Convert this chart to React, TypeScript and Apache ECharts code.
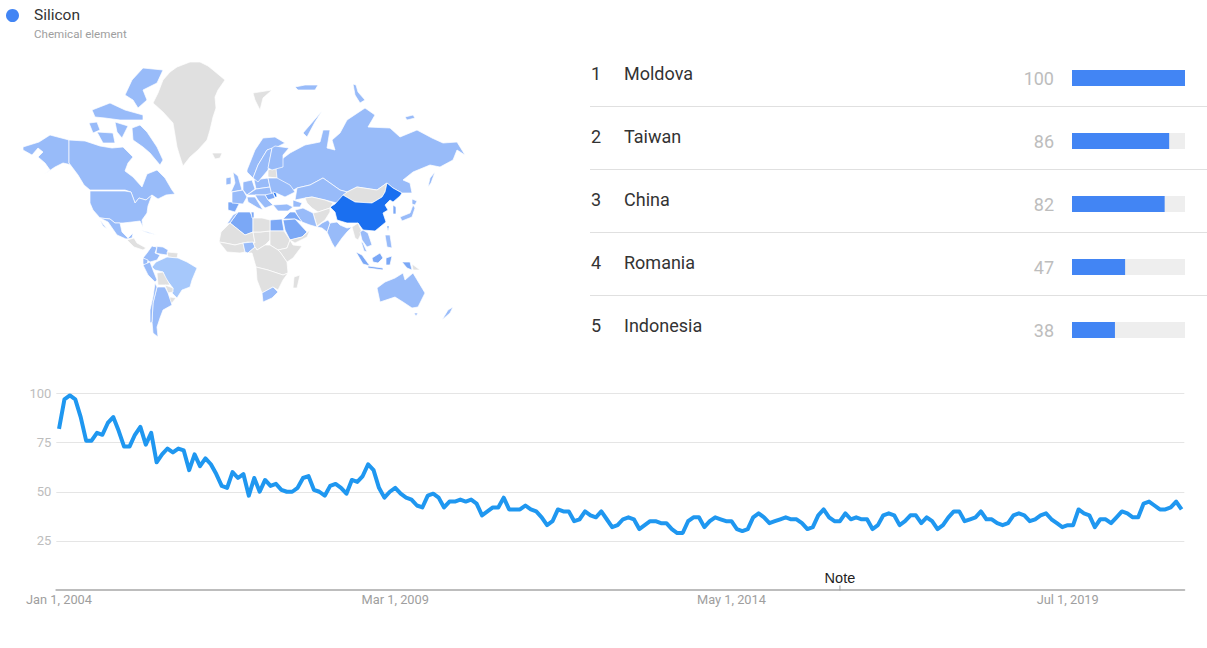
import React, { useEffect, useRef } from "react";
import * as echarts from "echarts";

// ---------- Ranked table ----------
const rankNames = ["Moldova", "Taiwan", "China", "Romania", "Indonesia"];
const rankValues = [100, 86, 82, 47, 38];

// ---------- Interest over time (monthly, Jan 2004 onward) ----------
const tickLabels = ["Jan 1, 2004", "Mar 1, 2009", "May 1, 2014", "Jul 1, 2019"];
const noteMonth = "Jan 1, 2016";
const trendValues = [
  82, 97, 99, 97, 88, 76, 76, 80, 79, 85, 88, 81, 73, 73, 79, 83, 74, 80, 65, 69,
  72, 70, 72, 71, 61, 69, 63, 67, 64, 59, 53, 52, 60, 57, 59, 48, 57, 50, 56, 53,
  54, 51, 50, 50, 52, 57, 58, 51, 50, 48, 53, 54, 52, 49, 56, 55, 58, 64, 61, 52,
  47, 50, 52, 49, 47, 46, 43, 42, 48, 49, 47, 42, 45, 45, 46, 45, 46, 44, 38, 40,
  42, 42, 47, 41, 41, 41, 43, 41, 40, 37, 33, 35, 41, 40, 40, 35, 36, 40, 38, 37,
  40, 36, 32, 33, 36, 37, 36, 31, 33, 35, 35, 34, 34, 31, 29, 29, 35, 37, 37, 32,
  35, 37, 36, 35, 35, 31, 30, 31, 37, 39, 37, 34, 35, 36, 37, 36, 36, 34, 31, 32,
  38, 41, 37, 35, 35, 39, 36, 37, 36, 36, 31, 33, 38, 39, 38, 33, 35, 38, 38, 34,
  37, 35, 31, 33, 37, 40, 40, 35, 36, 37, 40, 36, 36, 34, 33, 34, 38, 39, 38, 35,
  36, 38, 39, 36, 34, 32, 33, 33, 41, 39, 38, 32, 36, 36, 34, 37, 40, 39, 37, 37,
  44, 45, 43, 41, 41, 42, 45, 41,
];
const monthNames = ["Jan", "Feb", "Mar", "Apr", "May", "Jun", "Jul", "Aug", "Sep", "Oct", "Nov", "Dec"];
const months = trendValues.map((_, i) => `${monthNames[i % 12]} 1, ${2004 + Math.floor(i / 12)}`);

// ---------- Map: search interest per region ----------
const regionValues: Record<string, number> = {
  China: 82, Taiwan: 86, Moldova: 100, Romania: 47, Indonesia: 38, Borneo: 38, Java: 38, Sulawesi: 38, "West Papua": 38,
  Algeria: 36, Egypt: 38, "Saudi Arabia": 36, Iraq: 36, Spain: 30, "South Korea": 34, Nigeria: 22, Tunisia: 30,
  Canada: 24, Alaska: 24, Ellesmere: 24, Baffin: 24, Victoria: 24, Banks: 24, Parry: 24, Somerset: 24, "United States": 24,
  Mexico: 26, Baja: 26, Russia: 24, Kamchatka: 24, Sakhalin: 24, "Novaya Zemlya": 24, Severnaya: 24, Taymyr: 24, Kazakhstan: 24,
  Brazil: 18, Argentina: 20, Chile: 22, Peru: 24, Colombia: 26, Venezuela: 24, Ecuador: 26, Cuba: 10, "Franz Josef": 24,
  Australia: 24, Tasmania: 24, "New Zealand": 22, India: 22, Pakistan: 26, Iran: 22, Turkey: 24, Caucasus: 24,
  "United Kingdom": 24, Ireland: 24, France: 24, Germany: 24, Poland: 24, Italy: 24, Norway: 24, Sweden: 24, Finland: 24,
  Ukraine: 24, Balkans: 24, "Central Europe": 24, Morocco: 26, "South Africa": 22, Japan: 22, Hokkaido: 22,
  Indochina: 20, Philippines: 20, Malaya: 20,
  Greenland: 0, Iceland: 0, Svalbard: 0, Baltics: 0, Mongolia: 0, "Central Asia": 0, Afghanistan: 0, Myanmar: 0,
  "Central America": 0, Guyana: 0, Bolivia: 0, Paraguay: 0, Uruguay: 0, Libya: 0, Mauritania: 0, "West Coast": 0,
  Niger: 0, Sudan: 0, Ethiopia: 0, "Central Africa": 0, "Southern Africa": 0, Madagascar: 0, Yemen: 0, "Papua New Guinea": 0,
};

// Outlines of the regions, traced as flat x,y lists.
const regionOutlines: Record<string, number[]> = {
  Alaska: [23,147,39,142,50,135,69,140,69,163,80,172,72,165,63,163,55,167,43,175,50,170,45,163,38,157,43,152,38,148,32,155,23,150],
  Canada: [69,140,85,141,100,146,112,148,123,147,133,157,128,163,125,171,133,177,142,187,147,174,157,170,165,178,172,190,175,194,166,195,158,199,152,195,146,200,139,198,135,203,131,192,125,190,90,190,84,185,78,175,69,163],
  Ellesmere: [143,68,163,70,157,83,143,90,147,100,138,108,133,100,125,95,132,80],
  Parry: [92,110,110,103,125,110,143,115,143,120,120,120,105,118,95,117],
  Banks: [89,123,97,122,100,130,93,133],
  Victoria: [97,132,113,133,115,143,103,143],
  Somerset: [115,122,128,126,122,138,117,132],
  Baffin: [132,128,140,125,147,132,157,147,163,160,160,165,150,153,143,147,133,140],
  Greenland: [163,80,170,72,177,67,190,62,200,62,208,66,213,70,225,80,218,90,215,97,216,108,213,117,210,130,207,140,198,150,190,157,183,166,180,157,177,147,175,135,173,123,163,112,153,103,158,93],
  Iceland: [212,153,222,153,220,158,215,159],
  "United States": [90,191,125,191,131,192,135,203,139,198,146,200,152,195,148,206,147,213,142,220,143,227,140,221,132,222,123,223,120,223,115,223,110,219,100,218,93,210,90,203],
  Mexico: [100,218,110,219,115,223,120,223,122,232,128,238,133,233,132,238,126,239,117,235,108,222],
  Baja: [100,220,107,229,103,226],
  Cuba: [140,230,148,232,157,235,148,233],
  "Central America": [127,240,134,238,137,243,146,248,143,250,134,247],
  Colombia: [152,246,157,247,155,253,160,255,157,260,150,262,143,258,147,253],
  Venezuela: [153,246,163,247,168,250,167,255,160,254,156,253,157,247],
  Guyana: [167,252,178,253,177,258,168,257],
  Ecuador: [143,258,148,260,147,266,143,264],
  Peru: [143,265,150,262,153,270,157,280,155,282,148,275],
  Brazil: [156,262,167,257,178,258,187,262,197,268,192,280,190,287,182,290,177,298,172,293,173,288,165,278,163,272,155,270,152,267],
  Bolivia: [157,273,163,272,166,278,170,285,165,285,158,285],
  Paraguay: [165,285,173,288,173,292,168,293],
  Uruguay: [170,297,176,298,172,303,169,302],
  Argentina: [157,287,165,287,168,293,172,305,163,310,160,318,157,327,158,337,153,333,152,322,153,303],
  Chile: [155,283,157,287,153,303,152,322,150,323,150,310,153,297],
  Russia: [275,168,278,162,290,153,305,145,320,142,323,130,330,130,327,148,335,150,332,140,340,133,347,120,365,108,375,115,368,127,390,128,400,137,417,130,432,138,443,143,457,142,465,155,457,150,453,160,440,167,430,165,413,172,403,180,410,183,412,193,402,193,393,188,387,183,377,190,357,187,347,192,340,190,323,178,310,185,297,188,290,192,277,183],
  Sakhalin: [435,172,431,183,428,187,430,178],
  "Novaya Zemlya": [322,111,303,133,307,137,315,122],
  Severnaya: [405,117,413,115,415,118,407,120],
  Taymyr: [353,84,356,85,358,92,365,100,360,103,355,95],
  "Franz Josef": [295,87,305,85,318,85,315,90,298,90],
  Svalbard: [253,93,272,90,263,98,260,110,255,100],
  Kazakhstan: [297,188,310,185,323,178,340,190,347,192,343,196,337,203,325,200,312,197,305,198,295,200],
  Mongolia: [347,192,357,187,377,190,387,183,385,192,382,197,372,203,355,202,343,195],
  China: [330,207,335,204,343,195,355,202,372,203,382,197,385,192,387,183,393,188,402,193,400,196,393,202,390,200,385,205,388,210,383,213,386,222,375,231,363,230,358,223,347,223,337,220,335,212],
  Taiwan: [387,226,389,226,388,231],
  "South Korea": [393,205,396,207,396,214,393,214],
  Japan: [400,217,410,213,413,205,415,208,412,217,402,221],
  Hokkaido: [412,199,417,201,415,205,412,204],
  India: [330,223,337,222,340,225,347,228,352,227,347,232,342,238,335,248,332,243,327,232],
  Pakistan: [317,227,322,223,328,220,330,223,327,232,322,228],
  "Central Asia": [305,198,312,197,325,200,333,203,330,208,318,212,312,208,307,203],
  Afghanistan: [313,213,318,212,330,208,330,212,325,220,317,226],
  Iran: [295,210,303,208,313,213,317,227,310,225,302,222,297,215],
  Caucasus: [293,200,302,203,300,207,293,207],
  Turkey: [273,205,287,204,293,207,288,211,278,211],
  Iraq: [283,219,290,212,295,212,302,222,295,219],
  "Saudi Arabia": [283,220,295,219,307,232,302,237,290,240,285,230],
  Yemen: [290,240,302,237,310,230,307,237,295,243],
  Egypt: [270,220,282,219,284,231,270,231],
  Algeria: [238,212,250,212,253,218,253,232,245,235,230,223],
  Tunisia: [251,212,254,212,254,218,252,218],
  Morocco: [227,224,233,215,238,212,230,223],
  Mauritania: [230,223,245,235,253,232,255,243,248,242,243,243,235,245,225,243,219,242,221,232],
  "West Coast": [219,242,225,243,235,245,243,243,245,252,240,253,227,252],
  Nigeria: [243,243,253,242,255,247,248,253,245,252],
  Niger: [253,232,260,232,270,231,270,240,265,245,257,250,255,247,253,242,255,243],
  Libya: [253,218,262,218,270,220,270,231,260,232,253,232],
  Sudan: [270,231,284,231,290,240,287,248,278,250,270,245,270,240],
  Ethiopia: [290,240,293,245,302,246,293,258,287,262,280,252,278,250,287,248],
  "Central Africa": [257,250,265,245,270,245,278,250,280,252,287,262,288,273,283,275,268,270,256,267,252,253,248,253,255,247],
  "Southern Africa": [256,267,268,270,283,275,288,273,283,280,278,290,273,287,262,293,257,280],
  "South Africa": [262,293,273,287,278,292,272,298,263,302],
  Madagascar: [294,277,300,275,297,288,293,288],
  Spain: [228,202,240,202,235,212,228,210],
  "United Kingdom": [233,172,238,176,242,190,231,192,235,183],
  Ireland: [226,178,231,177,231,184,226,185],
  France: [232,192,243,190,247,197,243,204,232,203],
  Germany: [243,182,252,180,255,189,247,195,243,190],
  Poland: [254,180,268,178,270,187,256,189],
  "Central Europe": [247,195,256,189,270,187,272,195,265,195,255,195],
  Baltics: [268,170,276,168,277,178,268,177],
  Ukraine: [268,178,277,178,290,185,295,192,285,197,276,193,272,195,270,187],
  Moldova: [273,192,276,193,277,197,275,197],
  Romania: [265,195,273,193,275,198,268,200],
  Italy: [247,197,255,197,263,210,258,208,248,202],
  Balkans: [255,195,265,195,268,200,273,205,265,208,258,200],
  Norway: [247,170,255,150,263,138,275,137,285,143,275,148,267,150,258,165,253,178,247,172],
  Sweden: [258,165,267,150,272,148,268,170,258,182,253,178],
  Finland: [272,148,275,146,289,148,283,155,283,167,272,170,268,168],
  Myanmar: [352,227,358,223,362,232,358,240,355,238],
  Indochina: [360,232,363,230,368,233,372,245,367,247,362,240],
  Malaya: [361,241,363,243,367,252,364,251],
  Indonesia: [356,252,362,255,370,266,363,264],
  Java: [368,266,383,268,383,270,368,268],
  Borneo: [372,258,380,253,383,258,378,263,373,262],
  Sulawesi: [386,258,392,256,390,265,386,265],
  "West Papua": [402,262,410,262,412,270,407,268],
  "Papua New Guinea": [412,264,420,270,413,270],
  Philippines: [385,235,390,235,392,248,387,247],
  Australia: [377,288,385,282,395,278,403,273,405,280,413,273,425,293,418,307,412,308,403,302,395,297,380,302],
  Tasmania: [414,313,418,313,416,316],
  "New Zealand": [448,310,453,307,450,313,442,320,445,315],
};

function tierColor(v: number): string {
  if (v >= 80) return "#1a6ff0";
  if (v >= 30) return "#7ba8f6";
  if (v >= 19) return "#98bbf9";
  if (v > 0) return "#a6c8fb";
  return "#e0e0e0";
}

const regionNames = Object.keys(regionOutlines);
const geoJson = {
  type: "FeatureCollection",
  features: regionNames.map((name) => {
    const flat = regionOutlines[name];
    const ring: number[][] = [];
    for (let i = 0; i < flat.length; i += 2) ring.push([flat[i], -flat[i + 1]]);
    ring.push(ring[0]);
    return { type: "Feature", properties: { name }, geometry: { type: "Polygon", coordinates: [ring] } };
  }),
};
const allX = regionNames.flatMap((n) => regionOutlines[n].filter((_, i) => i % 2 === 0));
const allY = regionNames.flatMap((n) => regionOutlines[n].filter((_, i) => i % 2 === 1));
const mapLeft = Math.min(...allX);
const mapTop = Math.min(...allY);
const mapWidth = Math.max(...allX) - mapLeft;
const mapHeight = Math.max(...allY) - mapTop;

const FONT = "Roboto";
const BLUE = "#4285f4";
const rowCenters = rankNames.map((_, i) => 78 + i * 63);

export default function App() {
  const ref = useRef<HTMLDivElement>(null);
  useEffect(() => {
    echarts.registerMap("world", geoJson as any);
    const chart = echarts.init(ref.current!, undefined, { renderer: "svg" });
    chart.setOption({
      animation: false,
      backgroundColor: "#ffffff",
      textStyle: { fontFamily: FONT },
      grid: [
        { left: 56.3, top: 393.5, width: 1128, height: 196.5 },
        { left: 1072, top: 46.5, width: 113, height: 315 },
      ],
      xAxis: [
        {
          type: "category",
          gridIndex: 0,
          data: months,
          boundaryGap: true,
          axisTick: { show: false },
          axisLine: { lineStyle: { color: "#bdbdbd", width: 2 } },
          axisLabel: {
            color: "#9e9e9e",
            fontSize: 12.8,
            fontFamily: FONT,
            margin: 3,
            interval: (_: number, v: string) => tickLabels.includes(v),
            hideOverlap: false,
          },
          splitLine: { show: false },
        },
        { type: "value", gridIndex: 1, min: 0, max: 100, show: false },
      ],
      yAxis: [
        {
          type: "value",
          gridIndex: 0,
          min: 0,
          max: 100,
          interval: 25,
          axisLine: { show: false },
          axisTick: { show: false },
          axisLabel: {
            color: "#bdbdbd",
            fontSize: 13,
            fontFamily: FONT,
            margin: 5,
            formatter: (v: number) => (v === 0 ? "" : String(v)),
          },
          splitLine: { lineStyle: { color: "#e5e5e5", width: 1 } },
        },
        { type: "category", gridIndex: 1, data: rankNames, inverse: true, show: false },
      ],
      series: [
        {
          type: "map",
          map: "world",
          left: mapLeft,
          top: mapTop,
          width: mapWidth,
          height: mapHeight,
          aspectScale: 1,
          roam: false,
          silent: true,
          label: { show: false },
          emphasis: { disabled: true },
          select: { disabled: true },
          itemStyle: { borderColor: "#ffffff", borderWidth: 0.7, areaColor: "#e0e0e0" },
          data: regionNames.map((name) => ({
            name,
            value: regionValues[name],
            itemStyle: { areaColor: tierColor(regionValues[name]) },
          })),
        },
        {
          type: "line",
          xAxisIndex: 0,
          yAxisIndex: 0,
          data: trendValues,
          showSymbol: false,
          symbol: "none",
          silent: true,
          lineStyle: { color: "#1f97f0", width: 4, join: "round" },
          markPoint: {
            silent: true,
            symbol: "rect",
            symbolSize: [1, 5],
            symbolOffset: [0, -2],
            itemStyle: { color: "#9e9e9e" },
            label: {
              show: true,
              position: "top",
              distance: 0,
              formatter: "Note",
              color: "#222222",
              fontSize: 14.5,
              fontFamily: "Liberation Sans",
            },
            data: [{ coord: [noteMonth, 0] }],
          },
        },
        {
          type: "bar",
          xAxisIndex: 1,
          yAxisIndex: 1,
          data: rankValues,
          barWidth: 16,
          silent: true,
          itemStyle: { color: BLUE },
          showBackground: true,
          backgroundStyle: { color: "#eeeeee" },
          label: {
            show: true,
            position: "left",
            distance: 18,
            color: "#bdbdbd",
            fontSize: 18,
            fontFamily: FONT,
          },
        },
      ],
      graphic: [
        { type: "circle", shape: { cx: 12.5, cy: 15.5, r: 6.5 }, style: { fill: BLUE }, silent: true },
        { type: "text", x: 34, y: 14.5, silent: true, style: { text: "Silicon", font: `15.5px ${FONT}`, fill: "#333333", verticalAlign: "middle" } },
        { type: "text", x: 34, y: 34, silent: true, style: { text: "Chemical element", font: `11.6px ${FONT}`, fill: "#9e9e9e", verticalAlign: "middle" } },
        ...rowCenters.slice(0, 4).map((c) => ({
          type: "line",
          silent: true,
          shape: { x1: 590, y1: c + 28.5, x2: 1207, y2: c + 28.5 },
          style: { stroke: "#e0e0e0", lineWidth: 1 },
        })),
        ...rankNames.flatMap((name, i) => [
          { type: "text", x: 591, y: rowCenters[i] - 5, silent: true, style: { text: String(i + 1), font: `18px ${FONT}`, fill: "#333333", verticalAlign: "middle" } },
          { type: "text", x: 624, y: rowCenters[i] - 5, silent: true, style: { text: name, font: `18px ${FONT}`, fill: "#333333", verticalAlign: "middle" } },
        ]),
      ],
    });
    return () => chart.dispose();
  }, []);
  return <div ref={ref} style={{ position: "fixed", left: 0, top: 0, width: 1207, height: 648 }} />;
}
